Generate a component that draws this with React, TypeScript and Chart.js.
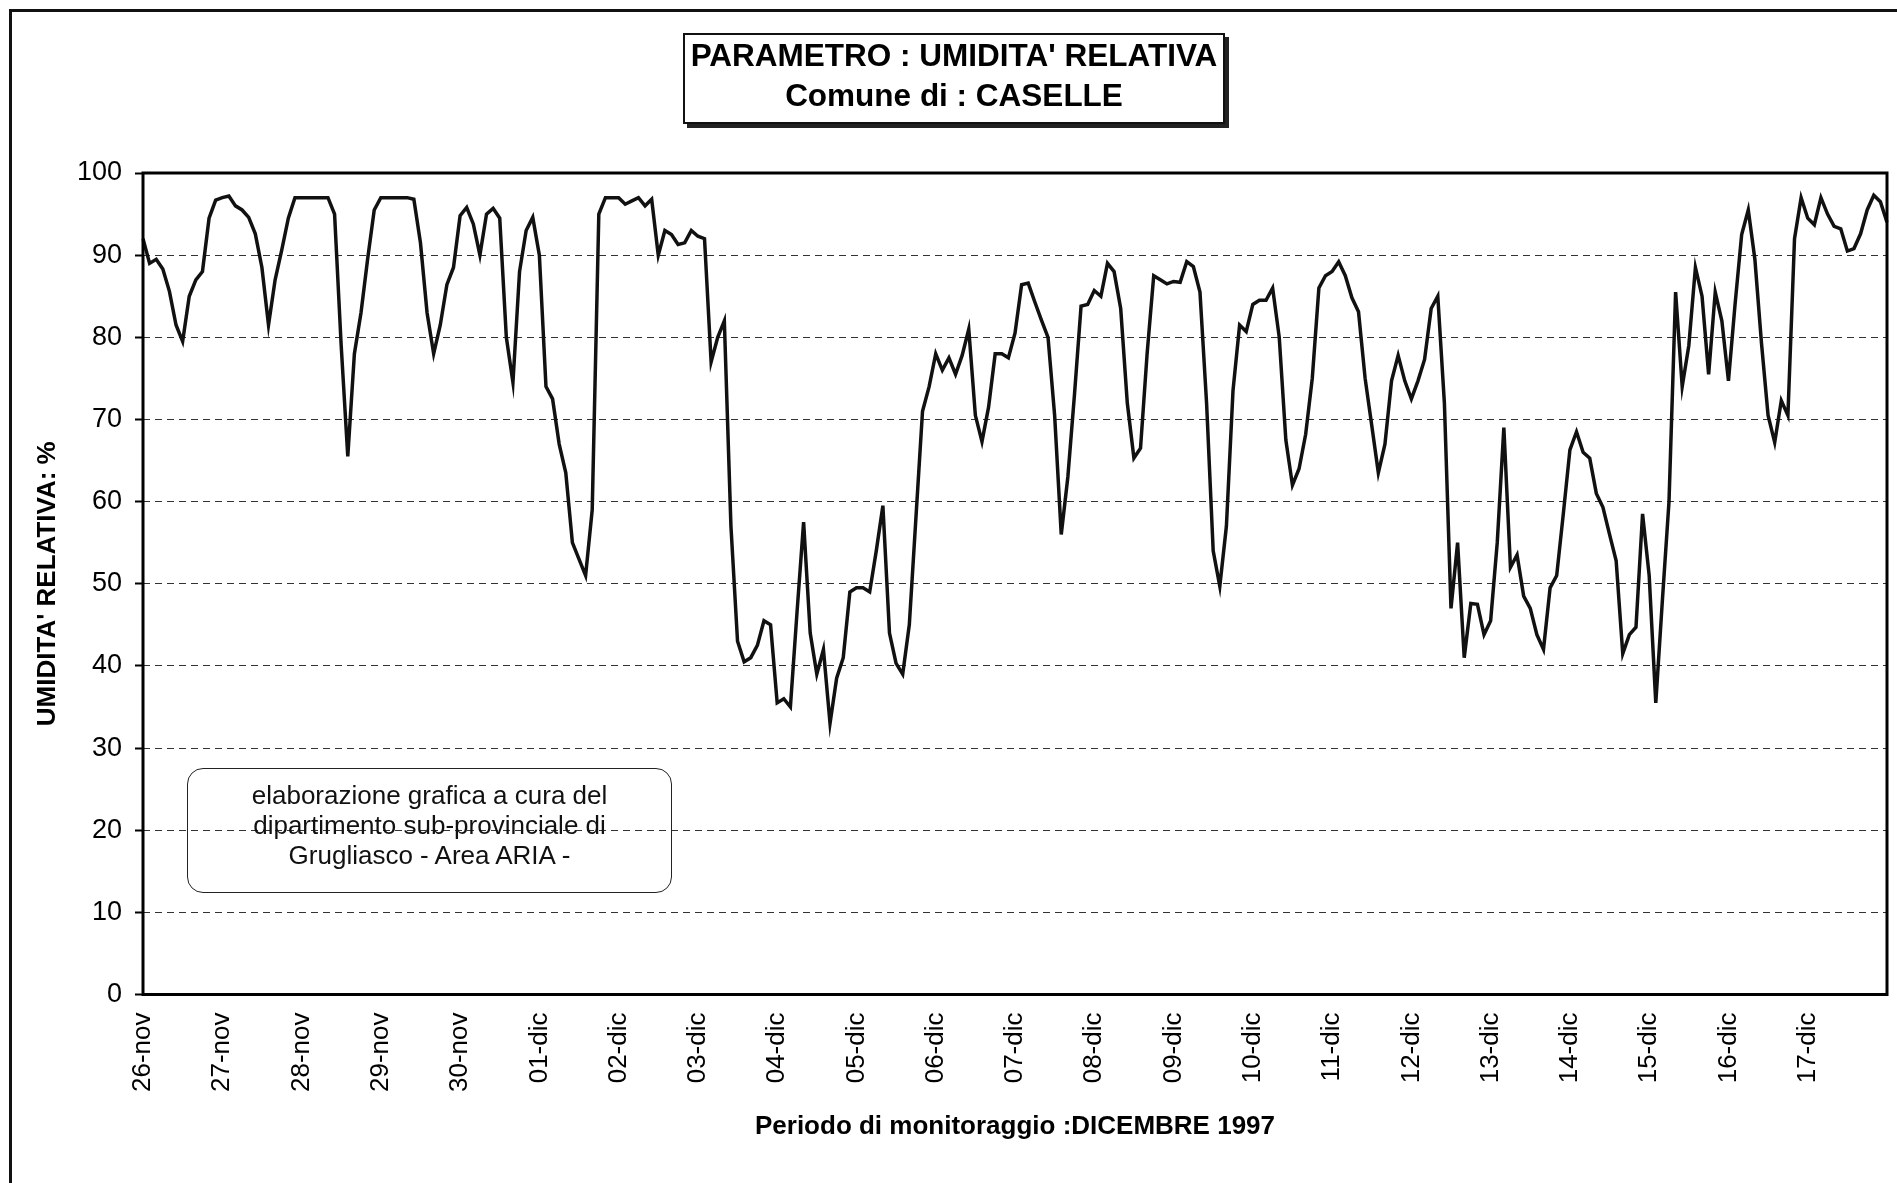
import React, { useEffect, useRef } from 'react';
import { Chart, registerables } from 'chart.js';

Chart.register(...registerables);

// Day labels (one every 24 hours, series sampled every 2 hours)
const dayLabels = [
  '26-nov', '27-nov', '28-nov', '29-nov', '30-nov', '01-dic', '02-dic', '03-dic',
  '04-dic', '05-dic', '06-dic', '07-dic', '08-dic', '09-dic', '10-dic', '11-dic',
  '12-dic', '13-dic', '14-dic', '15-dic', '16-dic', '17-dic',
];
const STEPS_PER_DAY = 12;

const yTickValues = [0, 10, 20, 30, 40, 50, 60, 70, 80, 90, 100];

// Relative humidity %, 26-nov 00h .. 02-dic 22h
const humidityPart1 = [
  92, 89, 89.5, 88.3, 85.6, 81.5, 79.5, 85, 87, 88, 94.5, 96.7,
  97, 97.2, 96, 95.5, 94.6, 92.6, 88.5, 81.5, 87, 90.6, 94.5, 97,
  97, 97, 97, 97, 97, 95, 79, 65.5, 78, 83, 89.5, 95.5,
  97, 97, 97, 97, 97, 96.8, 91.5, 83, 78, 81.5, 86.4, 88.5,
  94.8, 95.8, 93.8, 90, 95, 95.7, 94.5, 80, 74.5, 88, 93, 94.6,
  90, 74, 72.5, 67, 63.5, 55, 53, 51, 59, 95, 97, 97,
  97, 96.2, 96.6, 97, 96, 96.8, 90, 93, 92.5, 91.3, 91.5, 93,
];
// 03-dic 00h .. 09-dic 22h
const humidityPart2 = [
  92.3, 92, 77, 80, 82, 57, 43, 40.5, 41, 42.5, 45.5, 45,
  35.5, 36, 35, 46.5, 57.5, 44, 39, 42, 33, 38.5, 41, 49,
  49.5, 49.5, 49, 54, 59.5, 44, 40.3, 39, 45, 58, 71, 74,
  78, 76, 77.5, 75.5, 77.8, 81, 70.5, 67.3, 71.5, 78, 78, 77.5,
  80.5, 86.4, 86.6, 84.3, 82.1, 80, 70.5, 56, 63, 73, 83.8, 84,
  85.7, 85, 89, 88, 83.5, 72, 65.3, 66.5, 78, 87.5, 87, 86.5,
  86.8, 86.7, 89.2, 88.6, 85.5, 72, 54, 49.7, 57, 73.5, 81.5, 80.7,
];
// 10-dic 00h .. 18-dic 00h
const humidityPart3 = [
  84, 84.5, 84.5, 86, 80, 67.5, 62, 64, 68.2, 75, 86, 87.5,
  88, 89.2, 87.5, 84.8, 83.1, 75, 69.3, 63.5, 67, 74.7, 77.8, 74.7,
  72.5, 74.7, 77.3, 83.5, 85, 72, 47, 55, 41, 47.6, 47.5, 43.8,
  45.5, 55, 69, 52, 53.5, 48.5, 47, 43.8, 42, 49.5, 51, 58.5,
  66.3, 68.5, 66, 65.3, 61, 59.3, 56, 52.8, 41.5, 43.8, 44.7, 58.5,
  51, 35.5, 48, 60, 85.5, 74, 79, 88.5, 85, 75.5, 85.5, 82,
  74.7, 84, 92.5, 95.5, 89.5, 79.3, 70.5, 67.2, 72.3, 70.5, 92, 97,
  94.5, 93.7, 97, 95, 93.5, 93.2, 90.5, 90.8, 92.6, 95.5, 97.3, 96.5,
  94,
];

const humidity = [...humidityPart1, ...humidityPart2, ...humidityPart3];
const categories = humidity.map((_, i) =>
  i % STEPS_PER_DAY === 0 && i / STEPS_PER_DAY < dayLabels.length ? dayLabels[i / STEPS_PER_DAY] : ''
);

const FONT = '"Liberation Sans", Arial, Helvetica, sans-serif';

const framePlugin = {
  id: 'plotFrame',
  afterDraw(chart: any) {
    const { ctx, chartArea: a } = chart;
    ctx.save();
    ctx.strokeStyle = '#000';
    ctx.lineWidth = 3;
    ctx.setLineDash([]);
    ctx.strokeRect(a.left, a.top, a.right - a.left, a.bottom - a.top);
    ctx.restore();
  },
};

export default function App() {
  const canvasRef = useRef<HTMLCanvasElement | null>(null);

  useEffect(() => {
    document.body.style.margin = '0';
    document.body.style.overflow = 'hidden';
    const canvas = canvasRef.current;
    if (!canvas) return;
    const chart = new Chart(canvas, {
      type: 'line',
      data: {
        labels: categories,
        datasets: [
          {
            data: humidity,
            borderColor: '#111',
            borderWidth: 3.5,
            pointRadius: 0,
            tension: 0,
            fill: false,
          },
        ],
      },
      plugins: [framePlugin],
      options: {
        animation: false,
        responsive: true,
        maintainAspectRatio: false,
        devicePixelRatio: 1,
        layout: { padding: { top: 173, right: 10, bottom: 0, left: 0 } },
        plugins: {
          legend: { display: false },
          tooltip: { enabled: false },
          title: { display: false },
        },
        scales: {
          x: {
            type: 'category',
            offset: false,
            grid: { display: false, drawTicks: false },
            border: { display: false },
            ticks: {
              autoSkip: false,
              minRotation: 90,
              maxRotation: 90,
              padding: 18,
              color: '#000',
              font: { family: FONT, size: 26 },
            },
            title: {
              display: true,
              text: 'Periodo di monitoraggio :DICEMBRE 1997',
              color: '#000',
              font: { family: FONT, size: 26, weight: 'bold' },
              padding: { top: 0, bottom: 41 },
            },
            afterFit: (scale: any) => {
              scale.height = 188.5;
              scale.paddingRight = 0;
              scale.paddingLeft = 0;
            },
          },
          y: {
            min: 0,
            max: 100,
            afterBuildTicks: (scale: any) => {
              scale.ticks = yTickValues.map((v) => ({ value: v }));
            },
            grid: {
              color: '#333',
              lineWidth: 1,
              drawTicks: true,
              tickLength: 8,
              tickColor: '#000',
              tickWidth: 2,
              tickBorderDash: [],
            },
            border: { display: false, dash: [7, 5] },
            ticks: {
              padding: 13,
              color: '#000',
              font: { family: FONT, size: 27 },
            },
            title: {
              display: true,
              text: "UMIDITA' RELATIVA: %",
              color: '#000',
              font: { family: FONT, size: 26, weight: 'bold' },
              padding: { top: 32, bottom: 0 },
            },
            afterFit: (scale: any) => {
              scale.width = 143;
            },
          },
        },
      } as any,
    });
    return () => chart.destroy();
  }, []);

  return (
    <div style={{ position: 'relative', width: 1897, height: 1183, background: '#fff', overflow: 'hidden' }}>
      <div
        style={{
          position: 'absolute',
          left: 9,
          top: 9,
          width: 1897,
          height: 1183,
          borderLeft: '3px solid #111',
          borderTop: '3px solid #111',
        }}
      />
      <div style={{ position: 'absolute', left: 0, top: 0, width: 1897, height: 1183 }}>
        <canvas ref={canvasRef} />
      </div>
      <div
        style={{
          position: 'absolute',
          left: 683,
          top: 33,
          width: 542,
          height: 91,
          boxSizing: 'border-box',
          border: '2px solid #111',
          boxShadow: '4px 4px 0 #222',
          background: '#fff',
          fontFamily: FONT,
          fontWeight: 'bold',
          fontSize: 31.5,
          lineHeight: '40px',
          textAlign: 'center',
          color: '#000',
          whiteSpace: 'nowrap',
        }}
      >
        <div>PARAMETRO : UMIDITA' RELATIVA</div>
        <div>Comune di : CASELLE</div>
      </div>
      <div
        style={{
          position: 'absolute',
          left: 187,
          top: 768,
          width: 485,
          height: 125,
          boxSizing: 'border-box',
          border: '1.5px solid #222',
          borderRadius: 16,
          paddingTop: 11,
          fontFamily: FONT,
          fontSize: 26,
          lineHeight: '30px',
          textAlign: 'center',
          color: '#111',
          whiteSpace: 'nowrap',
        }}
      >
        <div>elaborazione grafica a cura del</div>
        <div>dipartimento sub-provinciale di</div>
        <div>Grugliasco - Area ARIA -</div>
      </div>
    </div>
  );
}
